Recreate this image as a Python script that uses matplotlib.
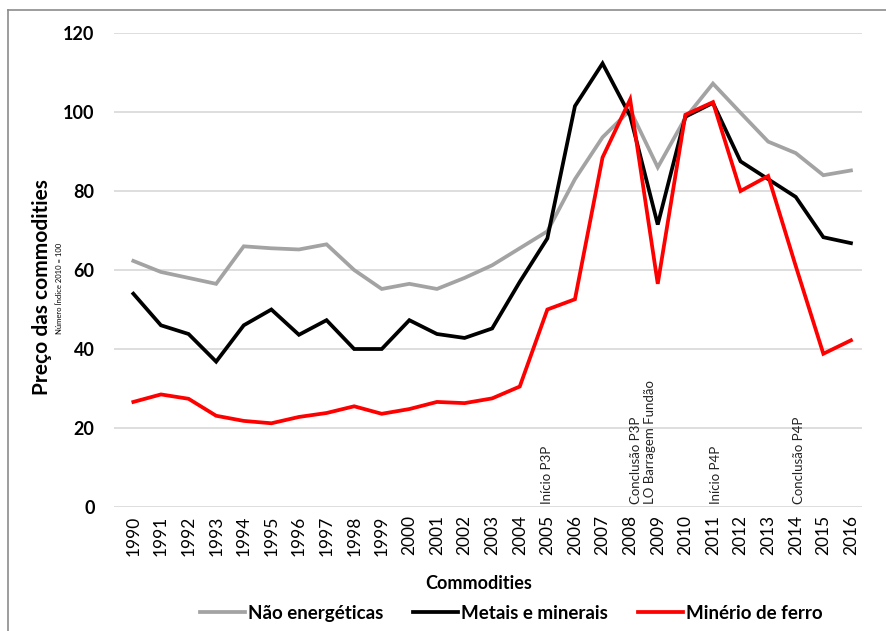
import matplotlib
matplotlib.use('Agg')
import matplotlib.pyplot as plt
from matplotlib.lines import Line2D

# ===== Data =====
years = [str(y) for y in range(1990, 2017)]

nao_energeticas = [62.3, 59.5, 58.0, 56.5, 66.0, 65.5, 65.2, 66.5, 60.0, 55.2,
                   56.5, 55.2, 58.0, 61.2, 65.5, 69.8, 83.0, 93.6, 100.5, 86.0,
                   98.5, 107.2, 99.8, 92.5, 89.6, 84.0, 85.2]
metais_minerais = [54.0, 46.0, 43.8, 36.8, 46.0, 50.0, 43.6, 47.3, 40.0, 40.0,
                   47.3, 43.8, 42.8, 45.2, 57.0, 68.0, 101.5, 112.3, 99.0, 71.5,
                   98.8, 102.3, 87.5, 83.0, 78.5, 68.3, 66.8]
minerio_ferro = [26.6, 28.5, 27.4, 23.1, 21.8, 21.2, 22.8, 23.8, 25.5, 23.6,
                 24.8, 26.6, 26.3, 27.5, 30.5, 50.0, 52.6, 88.5, 103.2, 56.5,
                 99.3, 102.5, 80.0, 83.8, 61.0, 38.8, 42.2]

series_names = ['Não energéticas', 'Metais e minerais', 'Minério de ferro']
series_colors = ['#a3a3a3', '#000000', '#ff0000']

# annotations: (category position, text)
events = [(15, 'Início P3P'),
          (18.45, 'Conclusão P3P\nLO Barragem Fundão'),
          (21.1, 'Início P4P'),
          (24.1, 'Conclusão P4P')]

plt.rcParams['font.family'] = ['Lato', 'DejaVu Sans']

fig = plt.figure(figsize=(8.86, 6.31), dpi=100)
ax = fig.add_axes([0.1287, 0.1965, 0.8442, 0.7512])

x = list(range(len(years)))
for vals, name, col in zip([nao_energeticas, metais_minerais, minerio_ferro],
                           series_names, series_colors):
    ax.plot(x, vals, color=col, lw=2.7, label=name, solid_joinstyle='miter')

ax.set_ylim(0, 120)
ax.set_xlim(-0.7, 26.4)
ax.set_yticks(range(0, 121, 20))
ax.set_yticklabels([str(v) for v in range(0, 121, 20)], fontsize=13, fontweight='bold')
ax.set_xticks(x)
ax.set_xticklabels(years, rotation=90, fontsize=12.5)
ax.tick_params(length=0)
ax.tick_params(axis='y', pad=14)
ax.tick_params(axis='x', pad=6)
ax.grid(axis='y', color='#d4d4d4', lw=1.1)
ax.set_axisbelow(True)
for s in ax.spines.values():
    s.set_visible(False)

for pos, txt in events:
    ax.text(pos, 0.8, txt, rotation=90, ha='center', va='bottom',
            multialignment='left', fontsize=9.5, color='#222222')

# axis titles
fig.text(0.047, 0.545, 'Preço das commodities', rotation=90, ha='center', va='center',
         fontsize=15, fontweight='bold')
fig.text(0.067, 0.543, 'Número Índice 2010 = 100', rotation=90, ha='center', va='center',
         fontsize=5.5)
fig.text(0.54, 0.076, 'Commodities', ha='center', va='center', fontsize=13, fontweight='bold')

handles = [Line2D([0], [0], color=c, lw=2.7) for c in series_colors]
fig.legend(handles, series_names, loc='center', bbox_to_anchor=(0.577, 0.028),
           ncol=3, frameon=False, handlelength=2.4, handletextpad=0.15,
           columnspacing=1.6, prop={'weight': 'bold', 'size': 13.5})

# thin frame lines like the pasted-in chart area
fig.add_artist(Line2D([8 / 886, 1], [1 - 10 / 631, 1 - 10 / 631], color='#8c8c8c', lw=1.2,
                      transform=fig.transFigure))
fig.add_artist(Line2D([8 / 886, 8 / 886], [0, 1 - 10 / 631], color='#8c8c8c', lw=1.2,
                      transform=fig.transFigure))

plt.savefig('out.png', dpi=100, facecolor='white')
